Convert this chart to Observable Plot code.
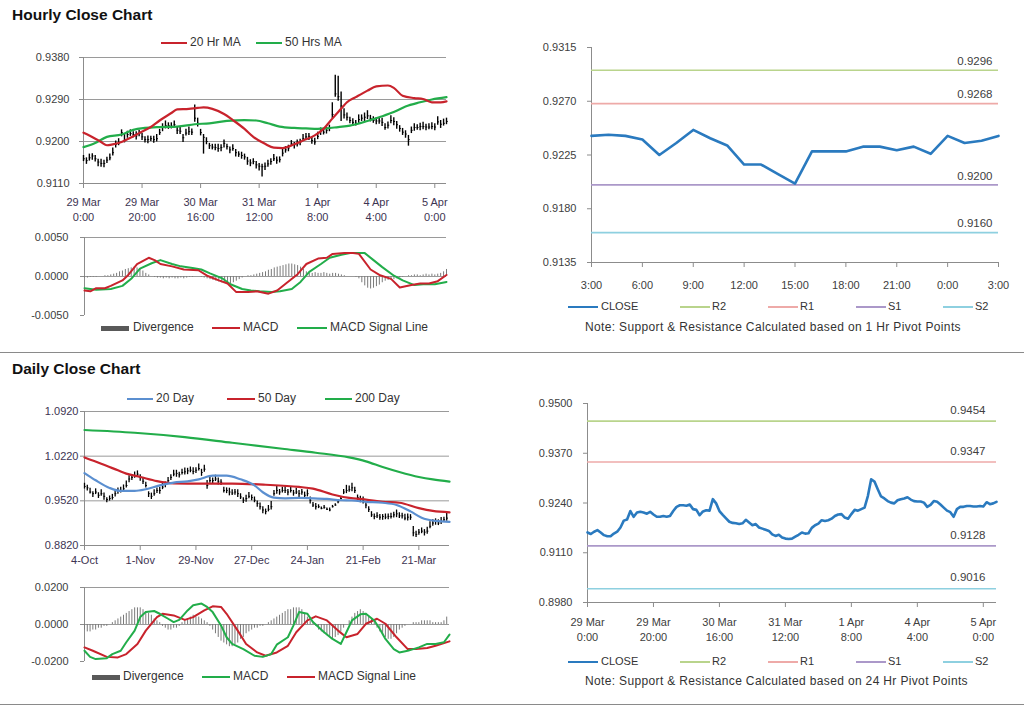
<!DOCTYPE html>
<html><head><meta charset="utf-8">
<script src="https://cdn.jsdelivr.net/npm/d3@7"></script>
<script src="https://cdn.jsdelivr.net/npm/@observablehq/plot@0.6"></script>
<style>
body{margin:0;background:#fff;font-family:"Liberation Sans",Arial,sans-serif;}
#page{position:relative;width:1024px;height:706px;overflow:hidden;background:#fff;}
.t{white-space:nowrap;color:#333;}
</style></head>
<body><div id="page"></div>
<script>
// ---------------- DATA ----------------
const hourlyTicks = [0,20,40,60,80,100,120];
const hourlyTickLabels = ["29 Mar\n0:00","29 Mar\n20:00","30 Mar\n16:00","31 Mar\n12:00","1 Apr\n8:00","4 Apr\n4:00","5 Apr\n0:00"];
const hourlyYTicks = [0.9110,0.9200,0.9290,0.9380];
const hourlyClose = [0.9163,0.9159,0.9165,0.9169,0.9163,0.9156,0.9153,0.9153,0.9160,0.9165,
 0.9176,0.9194,0.9197,0.9219,0.9204,0.9215,0.9217,0.9215,0.9212,0.9217,
 0.9210,0.9204,0.9204,0.9206,0.9204,0.9206,0.9219,0.9230,0.9234,0.9234,
 0.9233,0.9236,0.9224,0.9222,0.9208,0.9218,0.9221,0.9220,0.9250,0.9239,
 0.9219,0.9209,0.9200,0.9191,0.9188,0.9187,0.9185,0.9187,0.9196,0.9189,
 0.9182,0.9185,0.9176,0.9173,0.9170,0.9167,0.9158,0.9154,0.9157,0.9150,
 0.9147,0.9146,0.9147,0.9152,0.9157,0.9163,0.9160,0.9161,0.9175,0.9182,
 0.9186,0.9195,0.9193,0.9195,0.9199,0.9206,0.9210,0.9211,0.9202,0.9199,
 0.9211,0.9222,0.9220,0.9224,0.9228,0.9258,0.9302,0.9296,0.9276,0.9257,
 0.9252,0.9245,0.9241,0.9239,0.9247,0.9250,0.9252,0.9255,0.9249,0.9245,
 0.9244,0.9244,0.9241,0.9230,0.9235,0.9245,0.9243,0.9236,0.9228,0.9220,
 0.9216,0.9204,0.9224,0.9230,0.9230,0.9232,0.9232,0.9231,0.9231,0.9232,
 0.9231,0.9242,0.9237,0.9239,0.9243];
// high above close / low below close, in pips (0.0001)
const hourlyUpPips = [7,6,8,5,7,6,9,7,6,8, 10,7,9,6,11,7,8,6,9,7, 7,6,8,5,7,9,7,8,10,6,
 7,8,6,9,7,8,10,7,28,11, 7,6,8,5,6,7,9,6,7,5, 6,8,7,5,7,6,8,7,6,7,
 6,5,7,8,6,9,7,6,8,7, 6,7,5,8,6,9,7,6,7,8, 9,7,8,6,7,25,40,44,30,13,
 9,7,8,6,10,7,9,11,7,8, 7,6,9,8,7,10,8,7,6,8, 7,9,7,8,6,7,9,6,7,8, 7,11,8,9,7];
const hourlyDownPips = [6,8,7,9,7,10,8,9,7,6, 7,8,6,9,7,8,6,7,9,7, 8,7,9,6,8,7,6,9,7,8,
 6,7,9,7,10,6,8,7,9,8, 7,36,7,8,6,7,8,9,10,7, 8,6,9,7,8,7,9,8,7,9,
 10,22,9,7,8,6,9,7,8,7, 8,6,9,7,8,6,7,9,8,7, 7,9,6,8,7,9,7,10,33,9,
 8,7,9,6,8,7,9,8,7,6, 8,7,9,6,8,7,9,10,8,7, 9,14,7,8,6,9,7,8,6,7, 8,7,9,6,7];
const hourlyMA20 = [[0,0.9219],[2,0.9213],[6,0.9199],[8,0.9192],[10,0.9194],[13,0.9199],[16,0.9208],[19,0.9218],[23,0.9231],[26,0.9245],[30,0.9261],[32,0.9269],[36,0.9270],[39,0.9272],[41,0.9273],[44,0.9270],[48,0.9259],[51,0.9246],[55,0.9227],[58,0.9210],[62,0.9195],[65,0.9187],[68,0.9186],[72,0.9194],[75,0.9202],[79,0.9213],[82,0.9227],[85,0.9249],[88,0.9270],[90,0.9284],[93,0.9295],[97,0.9309],[100,0.9318],[104,0.9320],[106,0.9315],[109,0.9298],[113,0.9293],[116,0.9291],[119,0.9284],[122,0.9284],[124,0.9286]];
const hourlyMA50 = [[0,0.9188],[4,0.9197],[8,0.9210],[13,0.9215],[17,0.9225],[21,0.9229],[26,0.9231],[32,0.9232],[38,0.9237],[43,0.9239],[49,0.9244],[55,0.9246],[59,0.9245],[63,0.9239],[67,0.9232],[72,0.9229],[76,0.9228],[80,0.9227],[83,0.9228],[87,0.9231],[91,0.9234],[97,0.9244],[101,0.9252],[106,0.9263],[110,0.9275],[115,0.9284],[119,0.9290],[124,0.9295]];
const hourlyMacd = [[0,-0.0018],[2,-0.0019],[4,-0.0015],[7,-0.0015],[9,-0.0012],[13,-0.0005],[15,0.0002],[18,0.0016],[22,0.0024],[24,0.0021],[26,0.0016],[30,0.0013],[34,0.0009],[39,0.0008],[42,0.0001],[46,-0.0005],[49,-0.0009],[52,-0.0020],[56,-0.0020],[59,-0.0019],[63,-0.0022],[66,-0.0018],[69,-0.0009],[73,0.0003],[76,0.0016],[80,0.0023],[83,0.0024],[85,0.0029],[89,0.0030],[92,0.0030],[94,0.0029],[98,0.0009],[101,0.0002],[105,-0.0003],[108,-0.0014],[112,-0.0011],[115,-0.0009],[118,-0.0009],[121,-0.0006],[124,0.0002]];
const hourlySignal = [[0,-0.0015],[4,-0.0017],[9,-0.0016],[13,-0.0012],[16,-0.0003],[19,0.0010],[23,0.0017],[26,0.0021],[30,0.0016],[33,0.0013],[37,0.0011],[40,0.0009],[43,0.0004],[47,-0.0002],[50,-0.0010],[54,-0.0016],[57,-0.0018],[60,-0.0019],[64,-0.0020],[67,-0.0019],[71,-0.0016],[74,-0.0007],[77,0.0006],[81,0.0016],[84,0.0024],[88,0.0028],[91,0.0030],[96,0.0030],[99,0.0021],[102,0.0012],[106,0.0001],[109,-0.0005],[113,-0.0011],[116,-0.0010],[120,-0.0010],[124,-0.0007]];
// divergence in units of 0.0001
const hourlyDivergence = [-2,-2,-1,-1,-1,0,0,1,1,2, 3,4,6,7,9,10,11,12,11,9, 7,4,2,0,-1,-2,-2,-3,-2,-3,
 -2,-3,-3,-2,-3,-2,-1,-1,0,0, -1,-2,-3,-4,-5,-6,-7,-8,-8,-9, -9,-8,-6,-4,-2,0,1,1,2,3,
 4,5,6,8,9,11,12,13,14,15, 16,16,15,14,12,9,6,4,4,5, 4,4,5,4,3,4,4,3,2,1,
 0,0,0,-1,-3,-8,-12,-15,-16,-15, -13,-11,-8,-6,-5,-5,-4,-3,-2,-1, 0,1,1,2,2,1,2,3,2,3, 2,3,4,6,9];
const hourlyMacdTicks = [-0.005,0,0.005];

// Hourly pivot chart (last 24 hours)
const pivotHourTicks = [0,3,6,9,12,15,18,21,24];
const pivotHourLabels = ["3:00","6:00","9:00","12:00","15:00","18:00","21:00","0:00","3:00"];
const pivotHourYTicks = [0.9135,0.9180,0.9225,0.9270,0.9315];
const pivotHourClose = [0.9241,0.9242,0.9241,0.9238,0.9225,0.9235,0.9246,0.9239,0.9233,0.9217,0.9217,0.9209,0.9201,0.9228,0.9228,0.9228,0.9232,0.9232,0.9229,0.9232,0.9226,0.9241,0.9235,0.9237,0.9241];
const pivotNames = ["R2","R1","S1","S2"];
const pivotColors = ["#b9d48c","#eeaaa8","#ab98c9","#8ed0e0"];
const hourPivotValues = [0.9296,0.9268,0.9200,0.9160];
const dayPivotValues = [0.9454,0.9347,0.9128,0.9016];
const pivotDayYTicks = [0.8980,0.9110,0.9240,0.9370,0.9500];

// Daily
const dailyTicks = [0,20,40,60,80,100,120];
const dailyTickLabels = ["4-Oct","1-Nov","29-Nov","27-Dec","24-Jan","21-Feb","21-Mar"];
const dailyYTicks = [0.8820,0.9520,1.0220,1.0920];
const dailyClose = [0.9745,0.9724,0.9658,0.9632,0.9658,0.9607,0.9632,0.9591,0.9540,0.9556,
 0.9571,0.9632,0.9683,0.9683,0.9709,0.9760,0.9862,0.9888,0.9913,0.9939,
 0.9888,0.9827,0.9760,0.9632,0.9591,0.9632,0.9683,0.9683,0.9735,0.9775,
 0.9837,0.9888,0.9939,0.9949,0.9929,0.9964,0.9975,0.9990,1.0000,0.9980,
 1.0000,1.0026,0.9964,1.0016,0.9760,0.9837,0.9837,0.9862,0.9827,0.9811,
 0.9683,0.9683,0.9658,0.9643,0.9658,0.9632,0.9581,0.9530,0.9556,0.9591,
 0.9571,0.9530,0.9479,0.9428,0.9377,0.9351,0.9387,0.9428,0.9632,0.9683,
 0.9658,0.9683,0.9683,0.9658,0.9683,0.9643,0.9658,0.9632,0.9658,0.9607,
 0.9632,0.9530,0.9454,0.9428,0.9428,0.9402,0.9418,0.9387,0.9377,0.9428,
 0.9454,0.9505,0.9556,0.9658,0.9683,0.9694,0.9724,0.9683,0.9571,0.9540,
 0.9520,0.9454,0.9387,0.9300,0.9275,0.9285,0.9264,0.9275,0.9264,0.9275,
 0.9275,0.9300,0.9316,0.9285,0.9285,0.9249,0.9264,0.9264,0.9019,0.8994,
 0.9029,0.9045,0.9029,0.9045,0.9121,0.9172,0.9198,0.9172,0.9198,0.9224,
 0.9249];
// high above close / low below close in units of 0.001
const dailyUp = [5,4,6,3,5,4,6,5,3,4, 5,6,4,5,6,7,5,4,6,5, 4,6,5,3,5,6,4,5,6,4,
 5,4,6,5,4,5,6,4,5,6, 4,7,5,6,8,5,4,6,5,4, 5,4,6,5,4,6,5,4,5,6,
 4,5,4,6,5,4,6,8,5,6, 4,5,6,4,5,4,6,5,4,5, 6,5,4,5,3,2,3,2,3,2,
 2,3,2,4,8,6,7,5,4,5, 6,5,4,5,4,5,4,3,5,4, 5,4,6,5,4,6,5,4,10,5,
 4,5,4,6,7,5,4,5,6,4, 8];
const dailyDown = [4,5,3,6,4,5,4,6,5,4, 4,5,6,4,5,4,6,5,4,5, 6,5,4,6,5,4,5,6,4,5,
 4,5,4,6,5,4,5,6,4,5, 5,4,6,5,6,4,5,4,6,5, 4,5,6,4,5,6,4,5,6,4,
 5,4,6,5,6,5,4,5,4,6, 5,4,5,6,4,5,4,6,5,4, 5,6,4,5,3,2,3,2,3,2,
 2,3,2,4,5,4,6,5,4,5, 5,6,5,4,5,4,5,6,4,5, 4,5,6,4,5,4,6,5,6,5,
 5,4,6,5,4,5,6,4,5,4, 5];
const dailyMA20 = [[0,0.9955],[4,0.9842],[9,0.9722],[13,0.9675],[18,0.9675],[22,0.9701],[27,0.9763],[32,0.9805],[37,0.9826],[41,0.9857],[46,0.9915],[51,0.9915],[56,0.9857],[61,0.9763],[64,0.9655],[68,0.9570],[72,0.9560],[77,0.9565],[82,0.9560],[87,0.9550],[92,0.9529],[96,0.9525],[101,0.9505],[107,0.9490],[112,0.9455],[117,0.9355],[121,0.9255],[126,0.9205],[131,0.9190]];
const dailyMA50 = [[0,1.0200],[6,1.0102],[12,0.9998],[15,0.9946],[20,0.9894],[26,0.9830],[32,0.9795],[42,0.9790],[53,0.9790],[65,0.9772],[77,0.9738],[82,0.9711],[89,0.9620],[95,0.9565],[101,0.9540],[107,0.9505],[113,0.9490],[120,0.9405],[125,0.9362],[131,0.9340]];
const dailyMA200 = [[0,1.0630],[18,1.0587],[36,1.0519],[53,1.0430],[71,1.0336],[83,1.0274],[95,1.0200],[101,1.0139],[107,1.0050],[113,0.9972],[120,0.9894],[125,0.9855],[131,0.9822]];
const dailyMacd = [[0,-0.0142],[2,-0.0175],[4,-0.0187],[8,-0.0182],[10,-0.0160],[13,-0.0142],[15,-0.0096],[18,-0.0033],[20,0.0040],[22,0.0067],[25,0.0073],[27,0.0058],[30,0.0031],[32,0.0013],[34,0.0025],[37,0.0076],[39,0.0104],[42,0.0113],[44,0.0095],[46,0.0067],[49,-0.0005],[51,-0.0069],[53,-0.0105],[57,-0.0133],[61,-0.0169],[64,-0.0175],[67,-0.0160],[69,-0.0109],[73,-0.0069],[75,-0.0005],[77,0.0067],[80,0.0058],[82,0.0013],[86,-0.0042],[89,-0.0078],[92,-0.0105],[94,-0.0042],[96,0.0022],[99,0.0055],[101,0.0058],[104,0.0022],[106,-0.0024],[108,-0.0078],[111,-0.0133],[113,-0.0151],[116,-0.0142],[118,-0.0133],[120,-0.0124],[123,-0.0105],[126,-0.0105],[129,-0.0096],[131,-0.0055]];
const dailySignal = [[0,-0.0124],[3,-0.0142],[8,-0.0175],[12,-0.0178],[15,-0.0160],[19,-0.0105],[22,-0.0033],[26,0.0040],[28,0.0058],[32,0.0049],[36,0.0025],[39,0.0040],[43,0.0076],[46,0.0098],[49,0.0095],[51,0.0058],[55,-0.0033],[58,-0.0105],[62,-0.0151],[65,-0.0169],[69,-0.0151],[73,-0.0115],[76,-0.0042],[80,0.0022],[83,0.0044],[87,0.0022],[91,-0.0033],[94,-0.0069],[98,-0.0051],[101,0.0004],[105,0.0031],[108,0.0004],[112,-0.0069],[116,-0.0133],[119,-0.0133],[123,-0.0127],[126,-0.0115],[131,-0.0091]];
// divergence in units of 0.001
const dailyDivergence = [-3,-4,-4,-3,-3,-2,-2,-1,-1,0, 1,2,3,4,5,6,7,8,9,9, 9,8,7,6,5,3,2,1,-1,-2,
 -3,-3,-2,-2,-1,1,2,3,4,5, 4,4,3,2,1,-1,-3,-5,-7,-9, -10,-11,-12,-12,-11,-10,-8,-7,-5,-4,
 -3,-2,-2,-1,-1,0,1,2,3,4, 5,6,7,8,8,9,9,9,8,6, 4,2,1,-1,-3,-4,-5,-6,-7,-8,
 -7,-6,-4,-2,0,2,4,6,7,8, 7,6,4,3,1,-2,-4,-6,-7,-8, -8,-7,-5,-3,-2,-1,0,0,1,1,
 1,2,2,2,2,1,1,1,1,2, 4];
const dailyMacdTicks = [-0.02,0,0.02];

// ---------------- STYLE ----------------
const FONT = "'Liberation Sans', Arial, sans-serif";
const AX = "#8c8c8c", GRID = "#9a9a9a", LBL = "#404040", LBL2 = "#3d3452";
const RED = "#c8232c", GREEN = "#22ad4a", BLUE20 = "#5b8fd0", CLOSEBLUE = "#2a7abf";
const page = document.getElementById("page");
function put(node, left, top){ node.style.position="absolute"; node.style.left=left+"px"; node.style.top=top+"px"; page.appendChild(node); return node; }
function txt(str, left, cy, size, css){ const d=document.createElement("div"); d.className="t"; d.textContent=str; d.style.fontSize=size+"px"; d.style.lineHeight=size+"px"; if(css) d.style.cssText += css; return put(d, left, cy - size/2 - 1); }
function bar(x1, x2, cy, color, h){ const d=document.createElement("div"); d.style.width=(x2-x1)+"px"; d.style.height=h+"px"; d.style.background=color; return put(d, x1, cy - h/2); }
const baseStyle = {fontFamily:FONT, fontSize:"11px", color:LBL, background:"transparent", overflow:"visible"};
const pt = d => d[0], pv = d => d[1];

// ---------------- TITLES / SEPARATORS ----------------
txt("Hourly Close Chart", 12, 16, 15.5, "font-weight:bold;color:#111;");
txt("Daily Close Chart", 12, 370, 15.5, "font-weight:bold;color:#111;");
bar(0, 1024, 352, "#8a8a8a", 1);
bar(0, 1024, 704, "#8a8a8a", 1);

// ---------------- HOURLY MAIN ----------------
const hourlyRows = hourlyClose.map((c,i)=>({i, c, hi:c + hourlyUpPips[i]/1e4, lo:c - hourlyDownPips[i]/1e4}));
const hLab = new Map(hourlyTicks.map((t,k)=>[t, hourlyTickLabels[k]]));
put(Plot.plot({
  width:460, height:190, marginLeft:83, marginRight:14, marginTop:17, marginBottom:47,
  style:baseStyle,
  x:{domain:[0,124]}, y:{domain:[0.9110,0.9380]},
  marks:[
    Plot.ruleY(hourlyYTicks.slice(1), {stroke:GRID}),
    Plot.ruleY([0.9110], {stroke:AX}),
    Plot.ruleX([0], {stroke:AX}),
    Plot.axisY({ticks:hourlyYTicks, tickFormat:d=>d.toFixed(4), tickSize:4, tickPadding:10, stroke:AX, fill:LBL, label:null}),
    Plot.axisX({ticks:hourlyTicks, tickFormat:d=>hLab.get(d), tickSize:5, tickPadding:7, stroke:AX, fill:LBL2, label:null, lineHeight:1.35}),
    Plot.ruleX(hourlyRows, {x:"i", y1:"lo", y2:"hi", stroke:"#000", strokeWidth:1.4}),
    Plot.ruleY(hourlyRows, {y:"c", x1:"i", x2:d=>d.i+0.6, stroke:"#000", strokeWidth:1}),
    Plot.line(hourlyMA50, {x:pt, y:pv, stroke:GREEN, strokeWidth:2.2, curve:"monotone-x"}),
    Plot.line(hourlyMA20, {x:pt, y:pv, stroke:RED, strokeWidth:2.2, curve:"monotone-x"})
  ]
}), 0, 40);
bar(161, 187, 43, RED, 2); txt("20 Hr MA", 190, 43, 12);
bar(256, 282, 43, GREEN, 2); txt("50 Hrs MA", 285, 43, 12);

// ---------------- HOURLY MACD ----------------
const hDivRows = hourlyDivergence.map((v,i)=>({i, v:v/1e4}));
put(Plot.plot({
  width:460, height:95, marginLeft:84, marginRight:14, marginTop:7, marginBottom:10,
  style:baseStyle,
  x:{domain:[0,124], axis:null}, y:{domain:[-0.005,0.005]},
  marks:[
    Plot.ruleY([0.005, 0], {stroke:GRID}),
    Plot.ruleX([0], {stroke:AX}),
    Plot.axisY({ticks:hourlyMacdTicks, tickFormat:d=>d.toFixed(4), tickSize:4, tickPadding:12, stroke:AX, fill:LBL, label:null}),
    Plot.ruleX(hDivRows, {x:"i", y1:0, y2:"v", stroke:"#7a7a7a", strokeWidth:1}),
    Plot.line(hourlySignal, {x:pt, y:pv, stroke:GREEN, strokeWidth:2}),
    Plot.line(hourlyMacd, {x:pt, y:pv, stroke:RED, strokeWidth:2})
  ]
}), 0, 230);
bar(101, 129, 328, "#595959", 5); txt("Divergence", 133, 328, 12);
bar(212, 240, 328, RED, 2); txt("MACD", 243, 328, 12);
bar(297, 327, 328, GREEN, 2); txt("MACD Signal Line", 330, 328, 12);

// ---------------- PIVOT CHART helper ----------------
function pivotChart(opts){
  const pivRows = pivotNames.map((n,k)=>({n, v:opts.pivots[k], color:pivotColors[k]}));
  const lab = new Map(opts.xTicks.map((t,k)=>[t, opts.xLabels[k]]));
  return Plot.plot({
    width:524, height:opts.height, marginLeft:opts.ml, marginRight:opts.mr, marginTop:opts.mt, marginBottom:opts.mb,
    style:baseStyle,
    x:{domain:opts.xDomain}, y:{domain:opts.yDomain},
    marks:[
      Plot.ruleX([opts.xDomain[0]], {stroke:AX}),
      Plot.ruleY([opts.yDomain[0]], {stroke:AX}),
      Plot.axisY({ticks:opts.yTicks, tickFormat:d=>d.toFixed(4), tickSize:4, tickPadding:11, stroke:AX, fill:LBL, label:null}),
      Plot.axisX({ticks:opts.xTicks, tickFormat:d=>lab.get(d), tickSize:5, tickPadding:opts.xPad, stroke:AX, fill:LBL, label:null, lineHeight:1.35}),
      ...pivRows.map(p=>Plot.ruleY([p.v], {stroke:p.color, strokeWidth:1.6})),
      Plot.text(pivRows, {x:()=>opts.xDomain[1], y:"v", text:d=>d.v.toFixed(4), textAnchor:"end", dx:opts.ldx, dy:opts.ldy, fill:LBL, fontSize:11.5}),
      Plot.line(opts.close, {x:(d,i)=>i, y:d=>d, stroke:CLOSEBLUE, strokeWidth:2.6})
    ]
  });
}
function pivotLegend(cy, noteY, note){
  bar(568, 598, cy, CLOSEBLUE, 2.5); txt("CLOSE", 601, cy, 11);
  bar(680, 710, cy, pivotColors[0], 1.5); txt("R2", 712, cy, 11);
  bar(768, 798, cy, pivotColors[1], 1.5); txt("R1", 800, cy, 11);
  bar(856, 886, cy, pivotColors[2], 1.5); txt("S1", 888, cy, 11);
  bar(943, 973, cy, pivotColors[3], 1.5); txt("S2", 975, cy, 11);
  txt(note, 585, noteY, 12, "letter-spacing:0.35px;");
}

// ---------------- HOURLY PIVOT ----------------
put(pivotChart({height:265, ml:91, mr:26, mt:17, mb:33, xDomain:[0,24], yDomain:[0.9135,0.9315],
  xTicks:pivotHourTicks, xLabels:pivotHourLabels, yTicks:pivotHourYTicks, xPad:11,
  pivots:hourPivotValues, close:pivotHourClose, ldx:-6, ldy:-9}), 500, 30);
pivotLegend(307, 328, "Note: Support & Resistance Calculated based on 1 Hr Pivot Points");

// ---------------- DAILY MAIN ----------------
const dailyRows = dailyClose.map((c,i)=>({i, c, hi:c + dailyUp[i]/1e3, lo:c - dailyDown[i]/1e3}));
const dLab = new Map(dailyTicks.map((t,k)=>[t, dailyTickLabels[k]]));
put(Plot.plot({
  width:460, height:180, marginLeft:84, marginRight:11, marginTop:16, marginBottom:30,
  style:baseStyle,
  x:{domain:[0,131]}, y:{domain:[0.8820,1.0920]},
  marks:[
    Plot.ruleY(dailyYTicks.slice(1), {stroke:GRID}),
    Plot.ruleY([0.8820], {stroke:AX}),
    Plot.ruleX([0], {stroke:AX}),
    Plot.axisY({ticks:dailyYTicks, tickFormat:d=>d.toFixed(4), tickSize:4, tickPadding:2, stroke:AX, fill:LBL2, label:null}),
    Plot.axisX({ticks:dailyTicks, tickFormat:d=>dLab.get(d), tickSize:5, tickPadding:6, stroke:AX, fill:LBL2, label:null}),
    Plot.ruleX(dailyRows, {x:"i", y1:"lo", y2:"hi", stroke:"#000", strokeWidth:1.3}),
    Plot.ruleY(dailyRows, {y:"c", x1:"i", x2:d=>d.i+0.6, stroke:"#000", strokeWidth:1}),
    Plot.line(dailyMA200, {x:pt, y:pv, stroke:GREEN, strokeWidth:2.2, curve:"monotone-x"}),
    Plot.line(dailyMA50, {x:pt, y:pv, stroke:RED, strokeWidth:2.2, curve:"monotone-x"}),
    Plot.line(dailyMA20, {x:pt, y:pv, stroke:BLUE20, strokeWidth:2.2, curve:"monotone-x"})
  ]
}), 0, 395);
bar(127, 153, 399, BLUE20, 2); txt("20 Day", 156, 399, 12);
bar(227, 255, 399, RED, 2); txt("50 Day", 258, 399, 12);
bar(325, 352, 399, GREEN, 2); txt("200 Day", 355, 399, 12);

// ---------------- DAILY MACD ----------------
const dDivRows = dailyDivergence.map((v,i)=>({i, v:v/1e3}));
put(Plot.plot({
  width:460, height:90, marginLeft:84, marginRight:11, marginTop:7, marginBottom:9,
  style:baseStyle,
  x:{domain:[0,131], axis:null}, y:{domain:[-0.02,0.02]},
  marks:[
    Plot.ruleY([0.02, 0], {stroke:GRID}),
    Plot.ruleX([0], {stroke:AX}),
    Plot.axisY({ticks:dailyMacdTicks, tickFormat:d=>d.toFixed(4), tickSize:4, tickPadding:12, stroke:AX, fill:LBL, label:null}),
    Plot.ruleX(dDivRows, {x:"i", y1:0, y2:"v", stroke:"#7a7a7a", strokeWidth:1}),
    Plot.line(dailySignal, {x:pt, y:pv, stroke:RED, strokeWidth:2}),
    Plot.line(dailyMacd, {x:pt, y:pv, stroke:GREEN, strokeWidth:2})
  ]
}), 0, 580);
bar(92, 120, 677, "#595959", 5); txt("Divergence", 123, 677, 12);
bar(202, 230, 677, GREEN, 2); txt("MACD", 233, 677, 12);
bar(287, 315, 677, RED, 2); txt("MACD Signal Line", 318, 677, 12);

// ---------------- DAILY PIVOT (hourly closes) ----------------
put(pivotChart({height:265, ml:87, mr:28, mt:13, mb:53, xDomain:[0,124], yDomain:[0.8980,0.9500],
  xTicks:hourlyTicks, xLabels:hourlyTickLabels, yTicks:pivotDayYTicks, xPad:8,
  pivots:dayPivotValues, close:hourlyClose, ldx:-11, ldy:-11}), 500, 390);
pivotLegend(662, 682, "Note: Support & Resistance Calculated based on 24 Hr Pivot Points");
</script>
</body></html>
